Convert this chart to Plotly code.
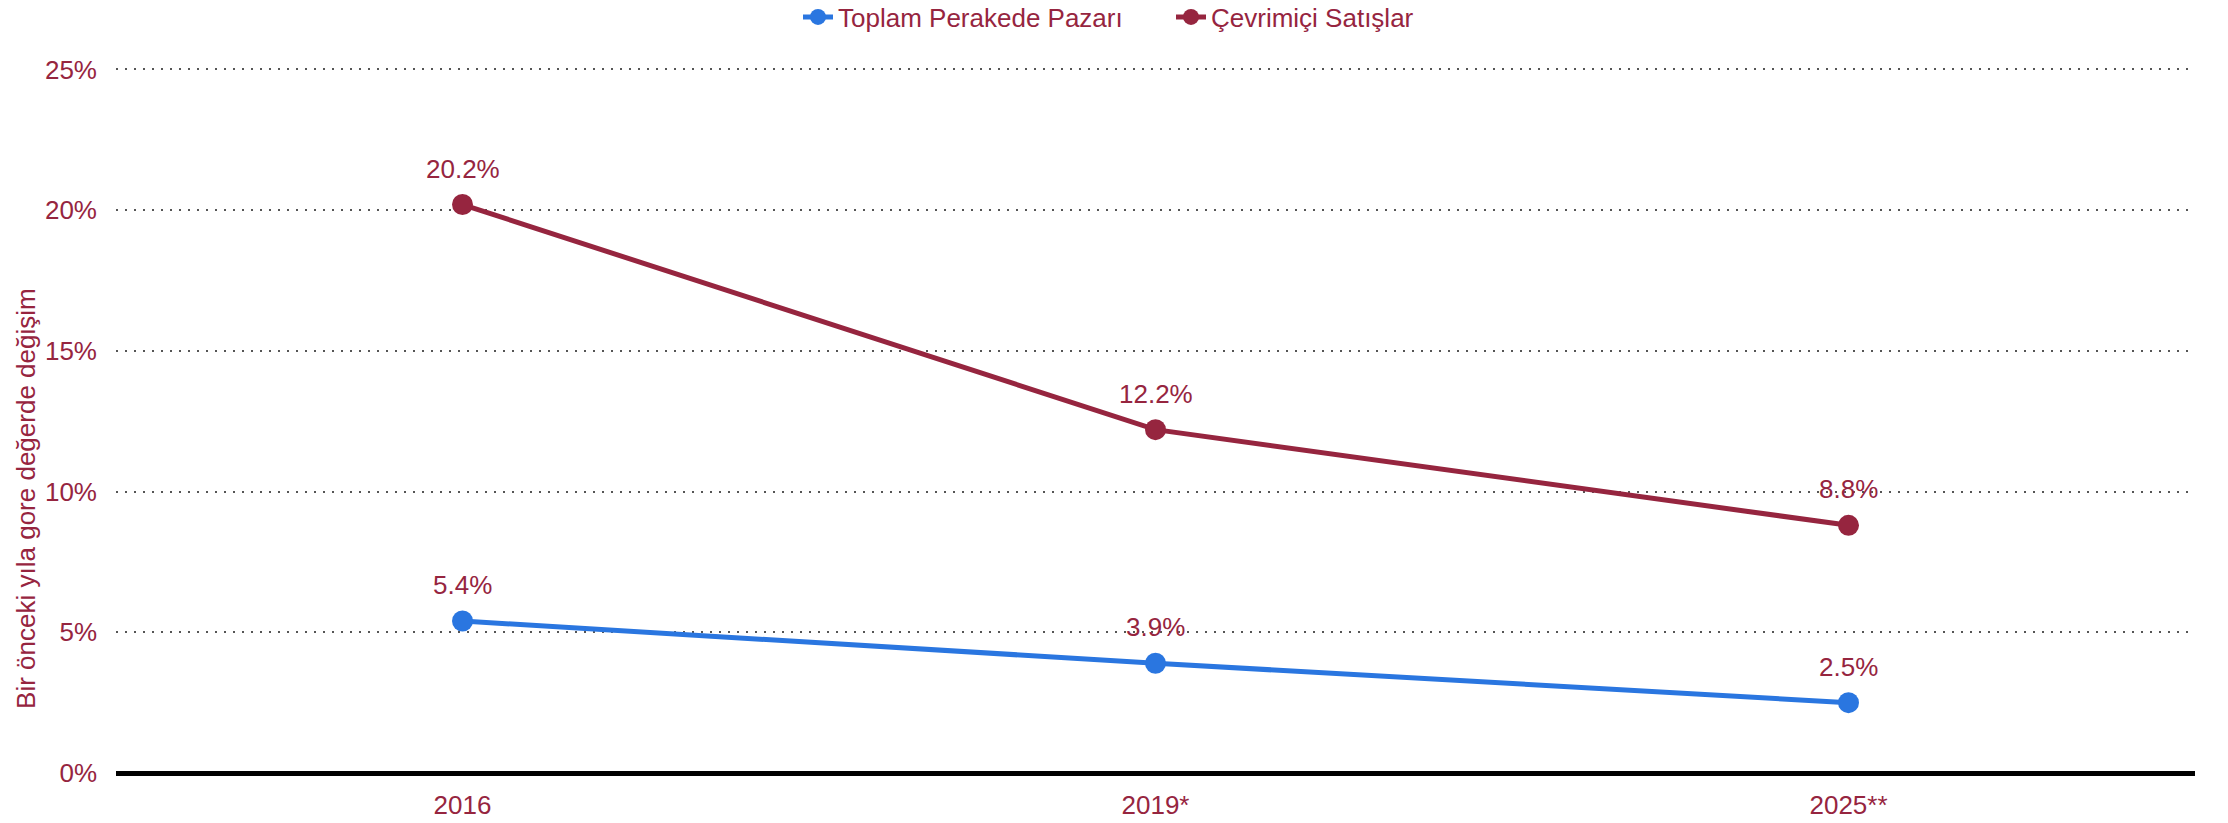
import plotly.graph_objects as go

categories = ["2016", "2019*", "2025**"]
total_retail = [5.4, 3.9, 2.5]
online_sales = [20.2, 12.2, 8.8]
total_labels = ["5.4%", "3.9%", "2.5%"]
online_labels = ["20.2%", "12.2%", "8.8%"]
y_ticks = [0, 5, 10, 15, 20, 25]
y_tick_labels = ["0%", "5%", "10%", "15%", "20%", "25%"]

RED = "#96253f"
BLUE = "#2a76e0"
FONT = "Liberation Sans, Arial, sans-serif"
FS = 26

fig = go.Figure()
fig.add_trace(go.Scatter(
    x=categories, y=total_retail, name="Toplam Perakede Pazarı",
    mode="lines+markers",
    line=dict(color=BLUE, width=5), marker=dict(color=BLUE, size=21),
    cliponaxis=False,
))
fig.add_trace(go.Scatter(
    x=categories, y=online_sales, name="Çevrimiçi Satışlar",
    mode="lines+markers",
    line=dict(color=RED, width=5), marker=dict(color=RED, size=21),
    cliponaxis=False,
))

annotations = []
for ys, labels in [(total_retail, total_labels), (online_sales, online_labels)]:
    for i, (yv, lab) in enumerate(zip(ys, labels)):
        annotations.append(dict(x=i, y=yv, text=lab, showarrow=False,
                                xanchor="center", yanchor="middle", yshift=36,
                                font=dict(size=FS, color=RED, family=FONT)))

annotations.append(dict(text="Bir önceki yıla gore değerde değişim",
                        xref="paper", yref="paper", x=(26 - 116) / 2079, y=0.385,
                        xanchor="center", yanchor="middle", textangle=-90,
                        showarrow=False, font=dict(size=FS, color=RED)))

fig.update_layout(
    width=2228, height=823,
    margin=dict(l=116, r=33, t=61, b=50, autoexpand=False),
    plot_bgcolor="white", paper_bgcolor="white",
    font=dict(family=FONT, color=RED, size=FS),
    showlegend=True,
    legend=dict(orientation="h", x=(798 - 116) / 2079, xanchor="left",
                yref="container", y=1 - 17 / 823, yanchor="middle",
                font=dict(size=FS, color=RED), bgcolor="rgba(0,0,0,0)",
                traceorder="normal", entrywidth=328),
    xaxis=dict(type="category", range=[-0.5, 2.5], showgrid=False,
               showline=False, ticks="", tickfont=dict(size=FS, color=RED),
               ticklabelstandoff=14, automargin=False),
    yaxis=dict(range=[0, 25.3], tickvals=y_ticks, ticktext=y_tick_labels,
               showgrid=True, gridcolor="#555555", griddash="2px,7px", gridwidth=1.5,
               zeroline=True, zerolinecolor="black", zerolinewidth=4.5,
               showline=False, ticks="", tickfont=dict(size=FS, color=RED),
               ticklabelstandoff=18, automargin=False),
    annotations=annotations,
)

fig.write_html("out.html", config={"displayModeBar": False},
               post_script="document.body.style.margin='0px';")
